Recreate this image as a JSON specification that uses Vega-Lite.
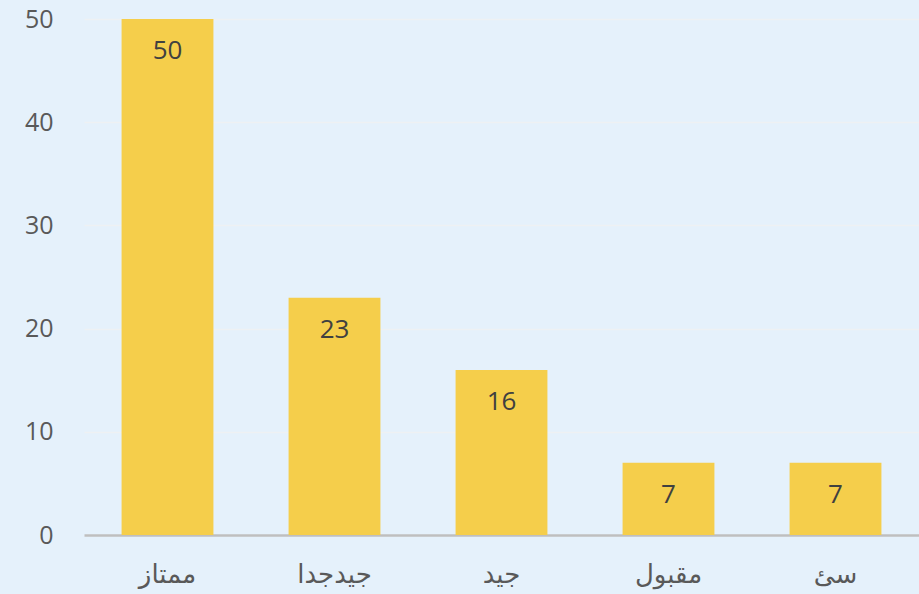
{
  "$schema": "https://vega.github.io/schema/vega-lite/v6.json",
  "width": 835,
  "height": 516,
  "autosize": {"type": "none"},
  "padding": {"left": 84, "top": 19, "right": 0, "bottom": 59},
  "background": "#E5F1FB",
  "config": {
    "view": {"stroke": null},
    "font": "Open Sans"
  },
  "data": {
    "values": [
      {"category": "ممتاز", "value": 50},
      {"category": "جيدجدا", "value": 23},
      {"category": "جيد", "value": 16},
      {"category": "مقبول", "value": 7},
      {"category": "سئ", "value": 7}
    ]
  },
  "encoding": {
    "x": {
      "field": "category",
      "type": "nominal",
      "sort": null,
      "scale": {"paddingInner": 0.45, "paddingOuter": 0.225},
      "axis": {
        "title": null,
        "labelAngle": 0,
        "ticks": false,
        "domainColor": "#BFBFBF",
        "domainWidth": 2.5,
        "labelColor": "#595959",
        "labelFontSize": 26,
        "labelPadding": 26,
        "labelFont": "DejaVu Sans"
      }
    },
    "y": {
      "field": "value",
      "type": "quantitative",
      "scale": {"domain": [0, 50], "nice": false},
      "axis": {
        "title": null,
        "values": [0, 10, 20, 30, 40, 50],
        "ticks": false,
        "domain": false,
        "gridColor": "#EEF1F3",
        "gridWidth": 1.5,
        "labelColor": "#595959",
        "labelFontSize": 25,
        "labelPadding": 31
      }
    }
  },
  "layer": [
    {"mark": {"type": "bar", "color": "#F5CE4B"}},
    {
      "mark": {"type": "text", "baseline": "middle", "dy": 32, "fontSize": 26, "color": "#404040"},
      "encoding": {"text": {"field": "value", "type": "quantitative"}}
    }
  ]
}
